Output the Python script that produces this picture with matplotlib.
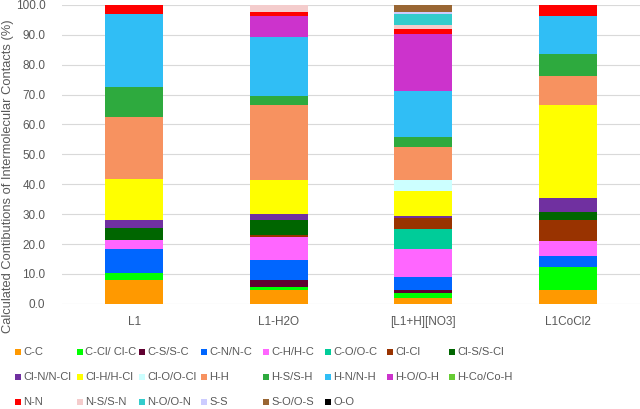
import matplotlib.pyplot as plt
from matplotlib.patches import Rectangle
import numpy as np

categories = ['L1', 'L1-H2O', '[L1+H][NO3]', 'L1CoCl2']
contacts = ['C-C', 'C-Cl/ Cl-C', 'C-S/S-C', 'C-N/N-C', 'C-H/H-C', 'C-O/O-C', 'Cl-Cl', 'Cl-S/S-Cl',
            'Cl-N/N-Cl', 'Cl-H/H-Cl', 'Cl-O/O-Cl', 'H-H', 'H-S/S-H', 'H-N/N-H', 'H-O/O-H', 'H-Co/Co-H',
            'N-N', 'N-S/S-N', 'N-O/O-N', 'S-S', 'S-O/O-S', 'O-O']
colors = ['#FF9900', '#00FF00', '#600030', '#0066FF', '#FF66FF', '#00CC99', '#993300', '#006600',
          '#7030A0', '#FFFF00', '#CCFFFF', '#F79260', '#2EAA3E', '#30BEF5', '#CC33CC', '#66CC33',
          '#FF0000', '#F4CCCC', '#33CCCC', '#CCCCFF', '#996633', '#000000']

# contributions (%) per contact type, same order as contacts
l1 = [7.9, 2.4, 0, 8.0, 3.1, 0, 0, 3.9, 2.8, 13.7, 0, 20.8, 10.1, 24.3, 0, 0, 3.0, 0, 0, 0, 0, 0]
l1_h2o = [4.7, 0.9, 2.4, 6.7, 7.8, 0, 0.5, 5.1, 1.9, 11.5, 0, 24.9, 3.2, 19.5, 7.2, 0, 1.3, 2.4, 0, 0, 0, 0]
l1h_no3 = [1.9, 1.9, 0.7, 4.6, 9.2, 6.7, 3.7, 0, 0.7, 8.2, 3.9, 11.1, 3.1, 15.6, 19.0, 0, 1.7, 1.3, 3.6, 0.6, 2.5, 0]
l1_cocl2 = [4.5, 7.8, 0, 3.8, 5.1, 0, 6.9, 2.6, 4.7, 31.2, 0, 9.7, 7.3, 12.7, 0, 0, 3.7, 0, 0, 0, 0, 0]

plt.rcParams['font.family'] = ['Liberation Sans', 'DejaVu Sans']
grey = '#595959'

data = np.array([l1, l1_h2o, l1h_no3, l1_cocl2]).T
x = np.arange(len(categories))

fig = plt.figure(figsize=(6.4, 4.09), dpi=100)
ax = fig.add_axes([0.097, 0.257, 0.903, 0.731])

bottom = np.zeros(len(categories))
for vals, col, name in zip(data, colors, contacts):
    ax.bar(x, vals, 0.4, bottom=bottom, color=col, linewidth=0, label=name, zorder=3)
    bottom += vals

ax.set_xlim(-0.5, len(categories) - 0.5)
ax.set_ylim(0, 100)
ax.set_yticks(np.arange(0, 101, 10))
ax.set_yticklabels([f'{v:.1f}' for v in np.arange(0, 101, 10)], fontsize=8.5, color=grey)
ax.set_xticks(x)
ax.set_xticklabels(categories, fontsize=8.5, color=grey)
ax.tick_params(axis='y', length=0, pad=12)
ax.tick_params(axis='x', length=0, pad=9)
ax.grid(axis='y', color='#D9D9D9', linewidth=0.8, zorder=0)
for s in ax.spines.values():
    s.set_visible(False)

fig.text(0.013, 1 - 176 / 409, 'Calculated Contibutions of Intermolecular Contacts (%)',
         rotation=90, va='center', ha='center', fontsize=9.3, color=grey)

# legend laid out in an even grid, like the original
for i, (name, col) in enumerate(zip(contacts, colors)):
    r, c = divmod(i, 8)
    lx = (15 + c * 62) / 640
    ly = 1 - (352 + r * 25) / 409
    fig.patches.append(Rectangle((lx, ly - 3 / 409), 6 / 640, 6 / 409, transform=fig.transFigure,
                                 facecolor=col, edgecolor='none'))
    fig.text(lx + 8 / 640, ly, name, va='center', ha='left', fontsize=8, color=grey)

fig.savefig('out.png', dpi=100)
